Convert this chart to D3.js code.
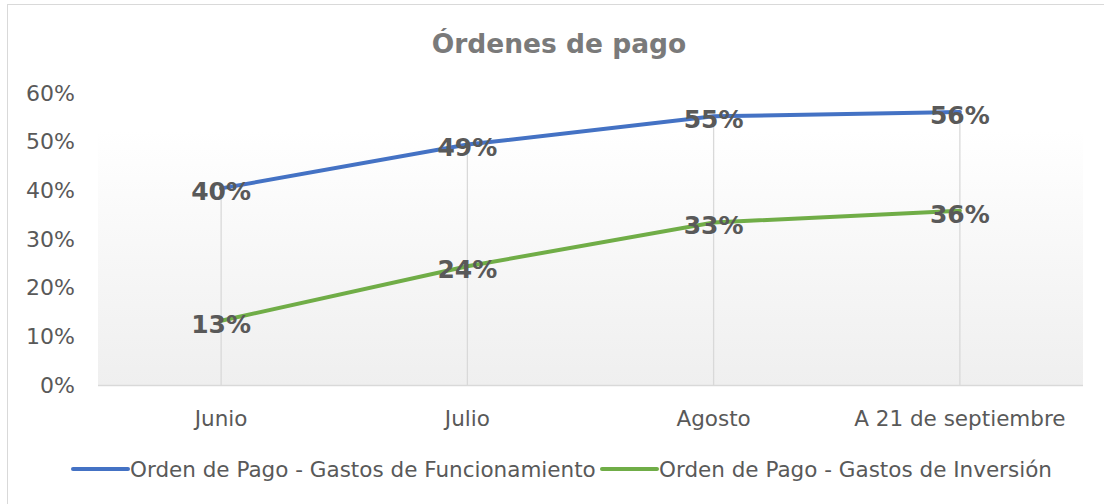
<!DOCTYPE html>
<html>
<head>
<meta charset="utf-8">
<script src="https://cdn.jsdelivr.net/npm/d3@7"></script>
<style>
	body { margin: 0; background: #fff; }
	svg { display: block; }
</style>
</head>
<body>
<div id="chart"></div>
<script>
const categories = ["Junio", "Julio", "Agosto", "A 21 de septiembre"];
const funcionamiento = [0.404, 0.494, 0.552, 0.561];
const inversion = [0.132, 0.244, 0.334, 0.358];
const yTicks = [0, 0.1, 0.2, 0.3, 0.4, 0.5, 0.6];
const seriesNames = [
	"Orden de Pago - Gastos de Funcionamiento",
	"Orden de Pago - Gastos de Inversión"
];

const width = 1104;
const height = 504;
const font = "'DejaVu Sans', Verdana, sans-serif";
const margin = {left: 98, right: 21, top: 93, bottom: 119};

const series = [
	{name: seriesNames[0], values: funcionamiento, color: "#4472c4"},
	{name: seriesNames[1], values: inversion, color: "#70ad47"}
];

const svg = d3.select("#chart")
	.append("svg")
	.attr("width", width)
	.attr("height", height);

// chart border
svg.append("rect")
	.attr("x", 7.5).attr("y", 4.5)
	.attr("width", width + 20).attr("height", height + 20)
	.attr("fill", "#fff")
	.attr("stroke", "#d9d9d9");

const x = d3.scaleBand()
	.domain(categories)
	.range([margin.left, width - margin.right]);

const y = d3.scaleLinear()
	.domain([0, 0.6])
	.range([height - margin.bottom, margin.top]);

const cx = d => x(d) + x.bandwidth() / 2;

// plot area gradient
const grad = svg.append("defs").append("linearGradient")
	.attr("id", "bg")
	.attr("x1", 0).attr("y1", 0).attr("x2", 0).attr("y2", 1);
grad.append("stop").attr("offset", "0%").attr("stop-color", "#ffffff");
grad.append("stop").attr("offset", "100%").attr("stop-color", "#efefef");

svg.append("rect")
	.attr("x", margin.left)
	.attr("y", 130)
	.attr("width", width - margin.left - margin.right)
	.attr("height", y(0) - 130)
	.attr("fill", "url(#bg)");

// drop lines from the top series down to the axis
svg.selectAll("line.grid")
	.data(categories)
	.enter()
	.append("line")
	.attr("class", "grid")
	.attr("x1", cx)
	.attr("x2", cx)
	.attr("y1", y(0))
	.attr("y2", (d, i) => y(Math.max(funcionamiento[i], inversion[i])))
	.attr("stroke", "#d9d9d9")
	.attr("stroke-width", 1.3);

// x axis line
svg.append("line")
	.attr("x1", margin.left).attr("x2", width - margin.right)
	.attr("y1", y(0) + 0.5).attr("y2", y(0) + 0.5)
	.attr("stroke", "#d9d9d9")
	.attr("stroke-width", 1.5);

// y tick labels
svg.selectAll("text.ytick")
	.data(yTicks)
	.enter()
	.append("text")
	.attr("class", "ytick")
	.attr("x", 75)
	.attr("y", d => y(d))
	.attr("dy", "0.35em")
	.attr("text-anchor", "end")
	.attr("font-family", font)
	.attr("font-size", "22px")
	.attr("fill", "#595959")
	.text(d3.format(".0%"));

// x tick labels
svg.selectAll("text.xtick")
	.data(categories)
	.enter()
	.append("text")
	.attr("class", "xtick")
	.attr("x", cx)
	.attr("y", 418)
	.attr("dy", "0.35em")
	.attr("text-anchor", "middle")
	.attr("font-family", font)
	.attr("font-size", "21.5px")
	.attr("fill", "#595959")
	.text(d => d);

// lines
const line = d3.line()
	.x((d, i) => cx(categories[i]))
	.y(d => y(d));

svg.selectAll("path.serie")
	.data(series)
	.enter()
	.append("path")
	.attr("class", "serie")
	.attr("d", d => line(d.values))
	.attr("fill", "none")
	.attr("stroke", d => d.color)
	.attr("stroke-width", 4)
	.attr("stroke-linecap", "round");

// data labels
series.forEach(function(s) {
	svg.selectAll(null)
		.data(s.values)
		.enter()
		.append("text")
		.attr("x", (d, i) => cx(categories[i]))
		.attr("y", d => y(d) + 3)
		.attr("dy", "0.35em")
		.attr("text-anchor", "middle")
		.attr("font-family", font)
		.attr("font-size", "25px")
		.attr("font-weight", "bold")
		.attr("fill", "#595959")
		.text(d3.format(".0%"));
});

// title
svg.append("text")
	.attr("x", 559)
	.attr("y", 44)
	.attr("dy", "0.35em")
	.attr("text-anchor", "middle")
	.attr("font-family", font)
	.attr("font-size", "26.5px")
	.attr("font-weight", "bold")
	.attr("fill", "#7a7a7a")
	.text("Órdenes de pago");

// legend
const legendPos = [{x1: 73, x2: 128, tx: 130}, {x1: 602, x2: 657, tx: 659}];
series.forEach(function(s, i) {
	const p = legendPos[i];
	svg.append("line")
		.attr("x1", p.x1).attr("x2", p.x2)
		.attr("y1", 469).attr("y2", 469)
		.attr("stroke", s.color)
		.attr("stroke-width", 4)
		.attr("stroke-linecap", "round");
	svg.append("text")
		.attr("x", p.tx)
		.attr("y", 469)
		.attr("dy", "0.35em")
		.attr("font-family", font)
		.attr("font-size", "21.5px")
		.attr("fill", "#595959")
		.text(s.name);
});
</script>
</body>
</html>
